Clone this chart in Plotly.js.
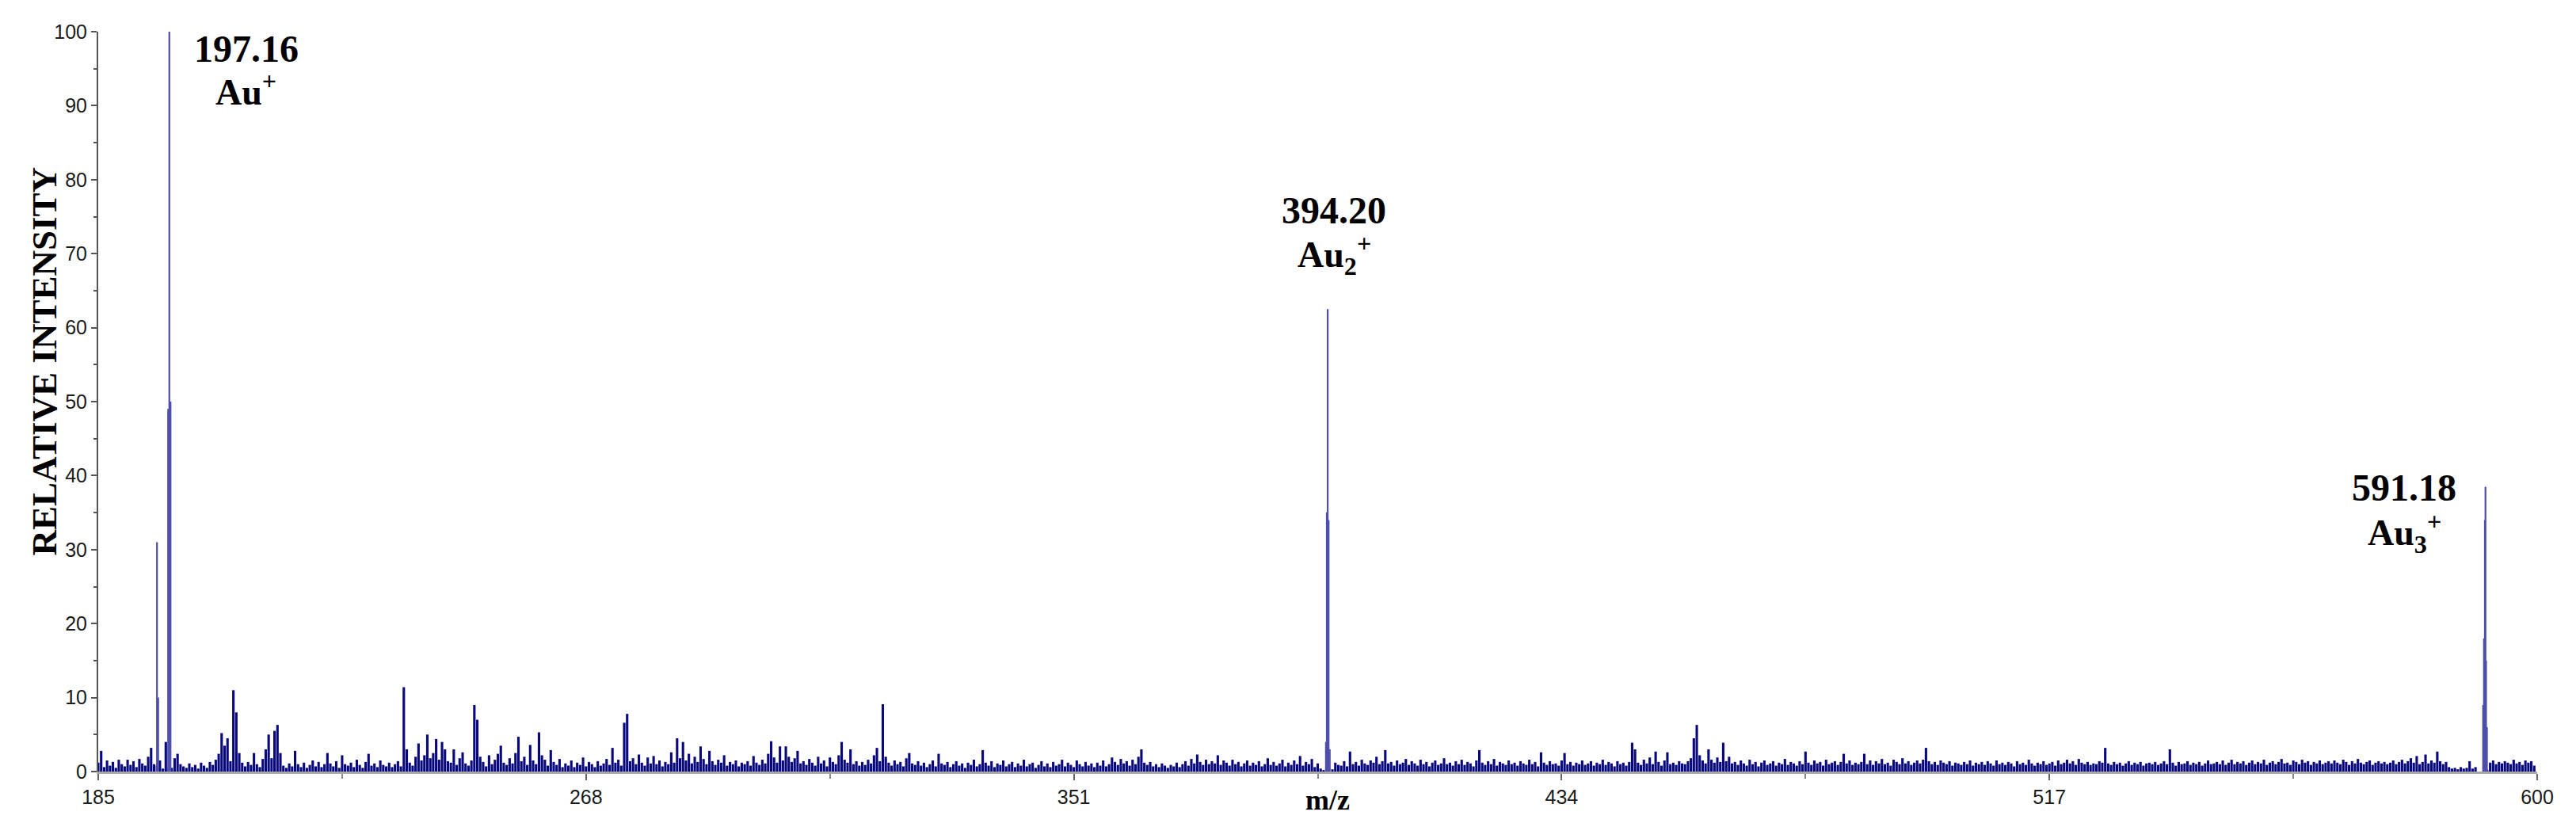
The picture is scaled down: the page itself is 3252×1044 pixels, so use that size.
<!DOCTYPE html>
<html>
<head>
<meta charset="utf-8">
<script src="https://cdn.plot.ly/plotly-3.0.1.min.js"></script>
<style>html,body{margin:0;padding:0;background:#fff;}#chart{width:3252px;height:1044px;}</style>
</head>
<body>
<div id="chart"></div>
<script>
// Background spectrum, read every 0.5 m/z from 185 to 600
const noiseStart = 185;
const noiseStep = 0.5;
const noiseIntensity = [
 1.2,2.8,0.6,1.5,0.8,1.3,0.5,1.6,1.0,0.7,1.6,0.9,1.4,0.6,1.7,1.1,0.8,2.0,3.2,1.0,
 0.8,1.5,0.4,4.0,0.6,0.5,1.8,2.4,1.0,0.7,0.5,1.1,0.6,0.9,0.4,1.2,0.8,0.5,1.3,0.9,
 1.6,2.4,5.2,3.5,4.5,1.4,11.0,8.0,2.5,1.2,0.7,1.3,0.9,2.5,1.0,0.6,1.7,3.0,5.0,1.8,
 5.5,6.3,2.5,0.8,0.5,1.1,0.7,2.8,1.0,0.6,1.2,0.5,0.9,1.5,0.7,1.3,0.6,1.0,2.5,1.1,
 0.7,1.4,0.5,2.2,1.0,0.8,1.2,0.6,1.6,0.9,0.5,1.3,2.4,0.8,1.1,0.6,1.5,0.9,0.7,1.2,
 0.6,1.0,1.4,0.7,11.4,3.0,1.2,0.8,2.0,3.8,1.5,2.2,5.0,1.8,2.5,4.4,1.6,4.0,3.0,1.4,
 1.2,3.0,0.9,1.8,2.6,1.1,0.8,1.5,9.0,7.0,2.0,1.3,0.7,2.2,1.0,1.6,2.4,3.5,1.2,0.9,
 1.8,1.1,2.5,4.7,1.4,2.0,0.9,3.6,1.5,1.0,5.3,2.2,1.6,0.8,2.9,1.3,0.9,1.7,0.6,1.1,
 0.8,1.5,0.6,1.2,0.9,1.9,0.7,1.3,1.0,0.6,1.4,0.8,1.1,1.7,0.9,3.2,1.2,1.6,0.8,6.6,
 7.8,1.4,1.8,1.0,2.3,1.2,0.8,1.9,1.1,2.1,1.0,1.5,0.7,1.3,1.0,2.6,1.2,4.5,1.8,4.0,
 1.5,2.4,1.1,2.0,1.3,3.4,1.7,1.0,2.8,1.4,0.9,1.6,1.2,2.2,0.8,1.3,1.0,1.5,0.7,1.2,
 1.0,1.4,0.8,2.1,1.2,0.9,1.6,1.1,2.4,4.1,1.9,1.2,3.4,1.5,3.4,2.0,1.3,1.8,2.8,1.1,
 1.4,0.9,1.7,1.2,0.8,2.0,1.1,1.5,0.7,1.9,1.3,1.0,2.2,4.0,1.6,1.2,3.0,1.0,1.4,0.8,
 1.3,0.9,1.6,1.1,2.2,3.2,1.4,9.1,2.0,1.2,0.8,1.5,1.0,1.3,0.7,1.8,2.5,1.1,0.9,1.4,
 0.8,1.2,0.6,1.0,1.5,0.7,2.4,1.1,0.9,1.3,0.6,1.0,1.4,0.8,1.1,0.5,1.2,0.9,1.6,0.7,
 1.0,2.9,1.2,0.8,1.4,0.6,1.1,0.9,1.5,0.7,1.0,1.3,0.6,1.1,0.8,1.6,0.7,1.0,1.2,0.5,
 0.9,1.4,0.7,1.1,0.6,1.3,0.8,1.0,1.6,0.7,1.2,0.9,0.6,1.5,1.0,0.7,1.3,0.8,1.1,0.6,
 1.2,0.8,1.5,0.7,1.0,1.9,1.3,0.9,1.7,1.1,1.4,0.8,1.6,1.0,2.0,3.0,1.2,0.9,1.3,0.7,
 1.0,0.6,1.1,0.8,0.5,0.9,0.7,1.2,0.6,1.0,1.4,0.8,1.7,1.1,2.3,1.3,0.9,1.6,1.0,1.4,
 1.1,2.2,0.9,1.5,1.2,0.8,1.6,1.0,1.3,0.7,1.1,1.5,0.8,1.2,0.9,1.4,0.7,1.0,1.8,0.9,
 1.3,0.8,1.1,1.6,0.7,1.2,0.9,1.5,1.0,2.1,0.8,1.3,1.0,1.7,0.6,1.1,0.4,0.2,0.0,0.0,
 0.3,1.2,0.9,0.8,1.4,0.7,2.7,1.0,1.3,0.8,1.6,1.1,0.9,1.5,1.2,2.0,1.0,1.4,2.9,1.1,
 1.3,0.8,1.5,1.0,1.2,1.7,0.9,1.4,1.1,0.8,1.6,1.0,1.3,0.7,1.2,1.5,0.9,1.1,1.8,1.0,
 1.2,0.8,1.4,1.0,1.6,0.9,1.3,1.1,0.7,1.5,2.9,1.2,0.9,1.4,1.0,1.7,0.8,1.3,1.1,0.9,
 1.5,1.0,1.2,0.8,1.4,1.1,0.9,1.6,1.0,1.3,0.7,2.6,1.2,0.9,1.4,1.0,1.1,0.8,1.5,2.5,
 1.0,1.3,0.8,1.2,1.0,1.5,0.9,1.1,1.4,0.8,1.2,1.0,1.6,0.9,1.3,1.1,0.7,1.4,1.0,1.2,
 0.8,1.3,3.9,3.0,1.2,0.9,1.6,1.1,1.9,1.0,2.7,1.3,0.8,1.5,2.6,1.0,1.2,0.9,1.4,1.1,
 1.0,1.4,1.8,4.5,6.3,2.2,1.5,1.1,3.0,1.6,1.2,1.9,1.3,3.9,1.4,2.0,1.1,1.3,0.9,1.5,
 1.1,0.8,1.6,1.0,1.3,0.7,1.2,1.5,0.9,1.1,1.4,0.8,1.2,1.0,1.7,0.9,1.3,1.1,0.8,1.4,
 1.0,2.7,1.2,0.9,1.5,1.1,1.3,0.8,1.6,1.0,1.2,1.4,0.9,1.3,2.4,1.1,1.5,0.9,1.2,1.0,
 1.3,2.4,1.0,1.5,0.9,1.4,1.1,1.7,1.0,1.2,0.8,1.6,1.3,1.0,1.8,1.1,1.4,0.9,1.2,1.5,
 1.1,1.6,3.2,1.4,1.0,1.3,0.9,1.5,1.2,1.0,1.4,0.8,1.2,1.1,0.9,1.3,1.0,1.5,0.8,1.2,
 1.0,1.3,0.9,1.4,1.1,0.8,1.5,1.0,1.2,0.9,1.3,1.1,0.7,1.4,1.0,1.2,0.9,1.6,1.1,0.8,
 1.2,1.0,1.4,0.9,1.1,1.3,0.8,1.5,1.0,1.2,1.6,1.1,1.4,0.9,1.7,1.2,1.0,1.3,0.9,1.1,
 1.0,1.4,1.2,3.2,1.1,0.9,1.3,1.0,1.2,0.8,1.1,1.4,0.9,1.2,1.0,1.3,0.8,1.1,1.2,1.0,
 1.3,0.9,1.1,1.4,1.0,3.0,1.2,0.8,1.3,1.0,1.1,1.4,0.9,1.2,1.0,1.3,0.8,1.1,1.5,1.0,
 1.1,1.3,1.0,1.5,0.9,1.2,1.6,1.0,1.3,1.1,1.4,0.9,1.2,1.5,1.0,1.3,1.1,1.6,0.9,1.2,
 1.4,1.0,1.3,1.7,1.1,1.2,0.9,1.5,1.3,1.0,1.6,1.2,1.4,0.9,1.3,1.1,1.5,1.0,1.2,1.4,
 1.1,1.5,1.2,1.0,1.6,1.3,0.9,1.4,1.1,1.7,1.2,1.0,1.3,1.5,0.9,1.2,1.4,1.1,1.3,1.0,
 1.2,1.5,1.0,1.3,1.6,1.1,1.4,1.8,1.2,2.1,1.0,1.3,2.3,1.1,1.5,1.2,2.7,1.4,1.0,1.3,
 0.6,0.4,0.5,0.3,0.6,0.4,0.5,1.4,0.4,0.6,0.0,0.0,0.0,0.2,1.2,1.5,1.0,1.3,1.1,1.4,
 1.2,1.0,1.6,1.1,1.3,0.9,1.5,1.2,1.4,0.8,0.0
];

// Gold cluster ion peaks (finer m/z resolution)
const peakMz = [195.0, 195.2, 196.9, 197.1, 197.3, 393.9, 394.05, 394.2, 394.35, 394.55, 590.8, 590.95, 591.1, 591.2, 591.3, 591.45];
const peakIntensity = [31, 10, 49, 100, 50, 4, 35, 62.5, 34, 3, 9, 18, 34, 38.5, 15, 6];

// Peak labels
const labelMz = [210.2, 395.3, 577.4];
const labelValue = ["197.16", "394.20", "591.18"];
const labelValueY = [97.7, 75.9, 38.4];
const labelIon = ["Au<sup>+</sup>", "Au<sub>2</sub><sup>+</sup>", "Au<sub>3</sub><sup>+</sup>"];
const labelIonY = [92.2, 69.9, 32.3];

const xTicks = [185, 268, 351, 434, 517, 600];

const serif = "'Times New Roman', 'Liberation Serif', serif";
const sans = "Arial, 'Liberation Sans', sans-serif";

const traces = [
  {
    type: 'bar', x0: noiseStart, dx: noiseStep, y: noiseIntensity,
    width: 0.42,
    marker: {color: '#08087c', line: {width: 0}},
    hoverinfo: 'skip'
  },
  {
    type: 'bar', x: peakMz, y: peakIntensity,
    width: 0.3,
    marker: {color: '#4e4eab', line: {width: 0}},
    hoverinfo: 'skip'
  }
];

const annotations = [];
for (let i = 0; i < labelMz.length; i++) {
  annotations.push({x: labelMz[i], y: labelValueY[i], xref: 'x', yref: 'y', text: '<b>' + labelValue[i] + '</b>',
    showarrow: false, xanchor: 'center', yanchor: 'middle', font: {family: serif, size: 48, color: '#000'}});
  annotations.push({x: labelMz[i], y: labelIonY[i], xref: 'x', yref: 'y', text: '<b>' + labelIon[i] + '</b>',
    showarrow: false, xanchor: 'center', yanchor: 'middle', font: {family: serif, size: 46, color: '#000'}});
}
annotations.push({x: -0.0221, y: 0.555, xref: 'paper', yref: 'paper', text: '<b>RELATIVE INTENSITY</b>',
  textangle: -90, showarrow: false, xanchor: 'center', yanchor: 'middle', font: {family: serif, size: 45, color: '#000'}});
annotations.push({x: 0.504, y: -0.0385, xref: 'paper', yref: 'paper', text: '<b>m/z</b>',
  showarrow: false, xanchor: 'center', yanchor: 'middle', font: {family: serif, size: 36, color: '#000'}});

const layout = {
  width: 3252, height: 1044,
  margin: {l: 124, r: 49, t: 40, b: 70, pad: 0},
  paper_bgcolor: '#fff', plot_bgcolor: '#fff',
  showlegend: false,
  barmode: 'overlay',
  xaxis: {
    range: [185, 600], tickmode: 'array', tickvals: xTicks, ticktext: xTicks.map(String),
    ticks: 'outside', ticklen: 8, tickwidth: 2, tickcolor: '#666',
    minor: {tickmode: 'linear', tick0: 185, dtick: 41.5, ticks: 'outside', ticklen: 6, tickwidth: 2, tickcolor: '#888'},
    showline: true, linecolor: '#a8a8a8', linewidth: 3,
    showgrid: false, zeroline: false,
    tickfont: {family: sans, size: 25, color: '#1a1a1a'}
  },
  yaxis: {
    range: [0, 100], tickmode: 'linear', tick0: 0, dtick: 10,
    ticks: 'outside', ticklen: 7, tickwidth: 2, tickcolor: '#555',
    minor: {tickmode: 'linear', tick0: 0, dtick: 5, ticks: 'outside', ticklen: 4, tickwidth: 2, tickcolor: '#555'},
    showline: true, linecolor: '#555', linewidth: 2,
    showgrid: false, zeroline: false,
    tickfont: {family: sans, size: 25, color: '#1a1a1a'}
  },
  annotations: annotations
};

Plotly.newPlot('chart', traces, layout, {staticPlot: true, displayModeBar: false});
</script>
</body>
</html>
